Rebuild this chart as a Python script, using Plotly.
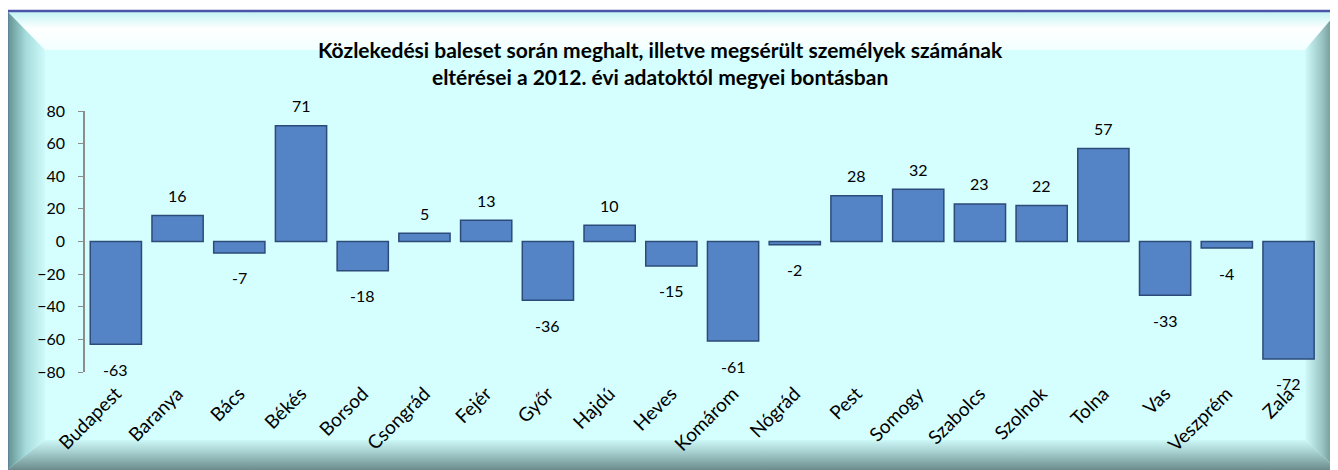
import plotly.graph_objects as go

# data
megyek = ["Budapest", "Baranya", "Bács", "Békés", "Borsod", "Csongrád", "Fejér",
          "Győr", "Hajdú", "Heves", "Komárom", "Nógrád", "Pest", "Somogy",
          "Szabolcs", "Szolnok", "Tolna", "Vas", "Veszprém", "Zala"]
elteres = [-63, 16, -7, 71, -18, 5, 13, -36, 10, -15, -61, -2, 28, 32, 23, 22, 57, -33, -4, -72]
y_ticks = [-80, -60, -40, -20, 0, 20, 40, 60, 80]

title_text = ("Közlekedési baleset során meghalt, illetve megsérült személyek számának<br>"
              "eltérései a 2012. évi adatoktól megyei bontásban")

SCREEN_W, SCREEN_H = 1338, 470
OFF = 8  # the page body margin moves the figure 8px right and down
W, H = SCREEN_W - OFF, SCREEN_H - OFF
FONT = "Lato"
BODY = "#d5fefe"


def px_x(sx):
    return (sx - OFF) / W


def px_y(sy):
    return (SCREEN_H - sy) / H


# plot area in screen pixels
x_dom = [px_x(85), px_x(1319.4)]
y_dom = [px_y(372), px_y(111)]

fig = go.Figure()


def bevel(xs, ys, orient, scale, start, stop):
    # decorative frame piece drawn on the full-page background axes
    fig.add_trace(go.Scatter(
        x=xs, y=ys, xaxis="x", yaxis="y", mode="lines", fill="toself",
        line=dict(width=0), hoverinfo="skip", showlegend=False,
        fillgradient=dict(type=orient, colorscale=scale, start=start, stop=stop),
    ))


# top, left, right, bottom bevels of the frame
bevel([7, 1338, 1305, 45, 7], [11, 11, 50, 50, 11], "vertical",
      [[0, "#bff3f3"], [0.45, "#ffffff"], [1, "#f2ffff"]], 11, 50)
bevel([7, 45, 45, 7, 7], [11, 50, 440, 470, 11], "horizontal",
      [[0, "#5f8e8e"], [0.5, "#a6dcdc"], [1, "#cffafa"]], 7, 45)
bevel([1338, 1338, 1305, 1305, 1338], [11, 470, 440, 50, 11], "horizontal",
      [[0, "#d0fbfb"], [0.5, "#9cc6c6"], [1, "#5a7c7c"]], 1305, 1338)
bevel([7, 45, 1305, 1338, 7], [470, 440, 440, 470, 470], "vertical",
      [[0, "#cdf8f8"], [0.45, "#a2caca"], [1, "#6b8b8b"]], 440, 470)

# bars
fig.add_trace(go.Bar(
    x=megyek, y=elteres, xaxis="x2", yaxis="y2",
    marker=dict(color="#5484c6", line=dict(color="#2c4b78", width=1.5)),
    showlegend=False, hoverinfo="x+y",
))

# value labels
for m, v in zip(megyek, elteres):
    fig.add_annotation(
        x=m, y=v, xref="x2", yref="y2", text=str(v), showarrow=False,
        yshift=20 if v >= 0 else -25,
        font=dict(family=FONT, size=16, color="#000000"),
    )

# title
fig.add_annotation(
    x=px_x(660), y=px_y(63), xref="paper", yref="paper", text=title_text,
    showarrow=False, xanchor="center", yanchor="middle", align="center",
    font=dict(family=FONT, size=21, color="#000000", weight="bold"),
)

fig.update_layout(
    width=W, height=H,
    margin=dict(l=0, r=0, t=0, b=0, autoexpand=False),
    paper_bgcolor="#ffffff", plot_bgcolor="rgba(0,0,0,0)",
    bargap=0.17,
    font=dict(family=FONT, size=16, color="#000000"),
    xaxis=dict(domain=[0, 1], range=[OFF, SCREEN_W], visible=False, fixedrange=True,
               automargin=False),
    yaxis=dict(domain=[0, 1], range=[SCREEN_H, OFF], visible=False, fixedrange=True,
               automargin=False),
    xaxis2=dict(
        domain=x_dom, anchor="y2", type="category", range=[-0.5, len(megyek) - 0.5],
        showline=False, ticks="", tickangle=-45, showgrid=False, automargin=False,
        tickfont=dict(family=FONT, size=19), ticklabelstandoff=6,
    ),
    xaxis3=dict(
        domain=x_dom, overlaying="x2", anchor="free",
        position=(y_dom[0] + y_dom[1]) / 2,
        range=[-0.5, len(megyek) - 0.5], tickmode="array",
        tickvals=[i - 0.5 for i in range(len(megyek) + 1)],
        showticklabels=False, ticks="outside", ticklen=5, tickcolor="#8c8c8c",
        tickwidth=1.5, showline=True, linecolor="#8c8c8c", linewidth=1.5,
        showgrid=False, zeroline=False, automargin=False,
    ),
    yaxis2=dict(
        domain=y_dom, anchor="x2", range=[-80, 80], tickmode="array",
        tickvals=y_ticks, showline=True, linecolor="#8c8c8c", linewidth=1.5,
        ticks="outside", ticklen=5, tickcolor="#8c8c8c", showgrid=False,
        zeroline=False, tickfont=dict(family=FONT, size=16), ticklabelstandoff=10,
        automargin=False,
    ),
    shapes=[
        dict(type="rect", xref="x", yref="y", x0=7, x1=SCREEN_W, y0=11, y1=SCREEN_H,
             fillcolor=BODY, line=dict(width=0), layer="below"),
        dict(type="line", xref="x", yref="y", x0=7, x1=SCREEN_W, y0=11, y1=11,
             line=dict(color="#4b56a8", width=2.5)),
        dict(type="line", xref="x", yref="y", x0=7, x1=7, y0=11, y1=SCREEN_H,
             line=dict(color="#4b56a8", width=2.5)),
    ],
)

fig.write_html("out.html")
